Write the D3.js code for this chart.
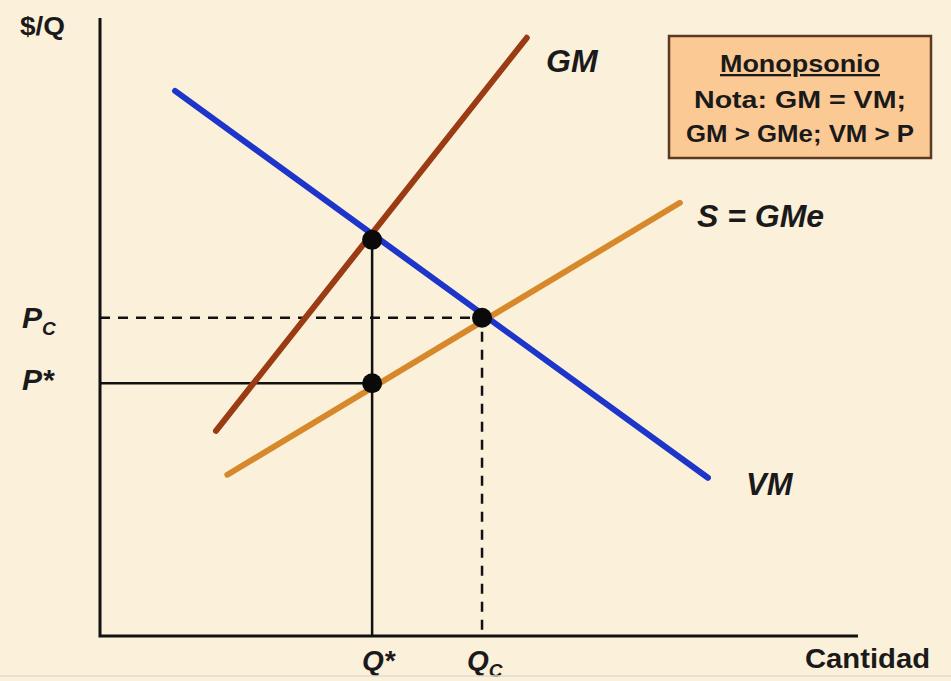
<!DOCTYPE html>
<html>
<head>
<meta charset="utf-8">
<script src="https://cdn.jsdelivr.net/npm/d3@7"></script>
<style>
  body { margin: 0; background: #fbf0da; }
  text { font-family: "Liberation Sans", Arial, sans-serif; font-weight: bold; fill: #1a1a1a; }
</style>
</head>
<body>
<div id="chart"></div>
<script>
// curves, in axis units (quantity 0..10, price 0..10)
var vm = [[0.99, 8.82], [8.02, 2.56]];
var gm = [[1.53, 3.32], [5.63, 9.68]];
var sGme = [[1.68, 2.61], [7.65, 7.01]];

var qStar = 3.59, qC = 5.04;
var pStar = 4.09, pC = 5.15, vmStar = 6.41;

var dots = [[qStar, vmStar], [qC, pC], [qStar, pStar]];
var noteLines = ["Monopsonio", "Nota: GM = VM;", "GM > GMe; VM > P"];

var width = 951, height = 681;

var svg = d3.select("#chart").append("svg")
    .attr("width", width)
    .attr("height", height);

svg.append("rect").attr("width", width).attr("height", height).attr("fill", "#fbf0da");

var x = d3.scaleLinear().domain([0, 10]).range([100, 858]);
var y = d3.scaleLinear().domain([0, 10]).range([636, 18]);

var line = d3.line().x(function(d) { return x(d[0]); }).y(function(d) { return y(d[1]); });

// guides
svg.append("path")
  .attr("d", line([[0, pC], [qC, pC], [qC, 0]]))
  .attr("fill", "none").attr("stroke", "#111").attr("stroke-width", 2.5)
  .attr("stroke-dasharray", "10,8");

svg.append("path")
  .attr("d", line([[0, pStar], [qStar, pStar]]))
  .attr("fill", "none").attr("stroke", "#111").attr("stroke-width", 2.5);
svg.append("path")
  .attr("d", line([[qStar, vmStar], [qStar, 0]]))
  .attr("fill", "none").attr("stroke", "#111").attr("stroke-width", 2.5);

// curves
var curves = [
  { pts: sGme, color: "#d6882a" },
  { pts: gm, color: "#9b3b14" },
  { pts: vm, color: "#1d35c9" }
];
svg.selectAll(".curve").data(curves).enter().append("path")
  .attr("class", "curve")
  .attr("d", function(d) { return line(d.pts); })
  .attr("fill", "none")
  .attr("stroke", function(d) { return d.color; })
  .attr("stroke-width", 6)
  .attr("stroke-linecap", "round");

// axes
svg.append("path")
  .attr("d", line([[0, 10], [0, 0], [10, 0]]))
  .attr("fill", "none").attr("stroke", "#111").attr("stroke-width", 3);

svg.selectAll(".dot").data(dots).enter().append("circle")
  .attr("class", "dot")
  .attr("cx", function(d) { return x(d[0]); })
  .attr("cy", function(d) { return y(d[1]); })
  .attr("r", 10)
  .attr("fill", "#0a0a0a");

// labels
svg.append("text").attr("x", 20).attr("y", 35).style("font-size", "26px")
  .attr("textLength", 45).attr("lengthAdjust", "spacingAndGlyphs").text("$/Q");
svg.append("text").attr("x", 805).attr("y", 668).style("font-size", "28px")
  .attr("textLength", 125).attr("lengthAdjust", "spacingAndGlyphs").text("Cantidad");

function italic(xp, yp, s, size) {
  return svg.append("text").attr("x", xp).attr("y", yp)
    .style("font-size", size + "px").style("font-style", "italic").text(s);
}
italic(546, 72, "GM", 32);
italic(697, 227, "S = GMe", 32);
italic(746, 495, "VM", 31);

var pc = italic(22, 328, "P", 30);
pc.append("tspan").attr("dy", 7).style("font-size", "19px").text("C");
italic(22, 390, "P*", 30);
italic(362, 670, "Q*", 28);
var qc = italic(467, 670, "Q", 28);
qc.append("tspan").attr("dy", 7).style("font-size", "19px").text("C");

// note box
svg.append("rect")
  .attr("x", 669).attr("y", 36).attr("width", 262).attr("height", 122)
  .attr("fill", "#fbc994").attr("stroke", "#5a3a22").attr("stroke-width", 2.5);

var noteY = [72, 108, 142], noteW = [160, 212, 228];
svg.selectAll(".note").data(noteLines).enter().append("text")
  .attr("class", "note")
  .attr("x", 800)
  .attr("y", function(d, i) { return noteY[i]; })
  .attr("text-anchor", "middle")
  .attr("textLength", function(d, i) { return noteW[i]; })
  .attr("lengthAdjust", "spacingAndGlyphs")
  .style("font-size", "23px")
  .style("text-decoration", function(d, i) { return i === 0 ? "underline" : null; })
  .text(function(d) { return d; });

svg.append("line").attr("x1", 0).attr("x2", width).attr("y1", 676).attr("y2", 676)
  .attr("stroke", "#e2dccf").attr("stroke-width", 1.5);
</script>
</body>
</html>
